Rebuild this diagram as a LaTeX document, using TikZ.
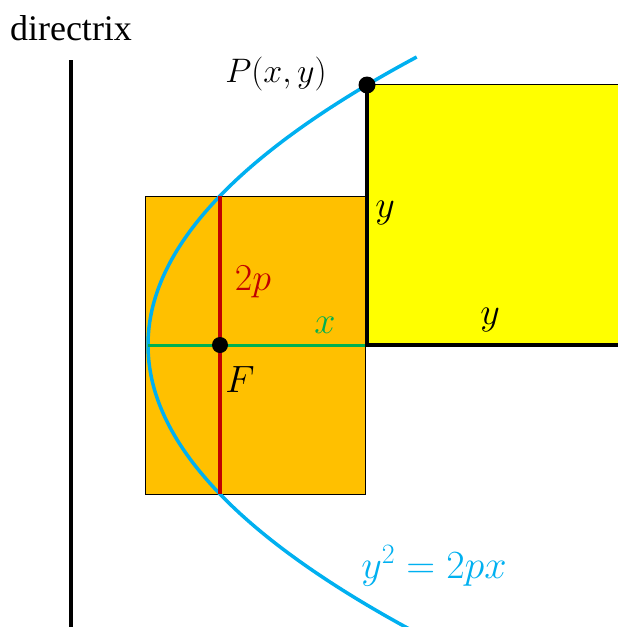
\RequirePackage{fix-cm}
\documentclass[tikz,border=0pt]{standalone}
\usepackage{fontspec}
\setmainfont{Liberation Serif}
\usepackage{tikz}
\usetikzlibrary{positioning}
\definecolor{gold}{HTML}{FFC000}
\definecolor{lemon}{HTML}{FFFF00}
\definecolor{sky}{HTML}{00B0F0}
\definecolor{darkred}{HTML}{C00000}
\definecolor{leaf}{HTML}{00B050}

\begin{document}
\begin{tikzpicture}[x=1pt,y=-1pt,
    dot/.style={circle,fill=black,inner sep=0pt,minimum size=17pt},
    lab/.style={inner sep=0pt,font=\fontsize{38}{42}\selectfont}]
    \useasboundingbox (0,0) rectangle (618,627);
    % points
    \coordinate (d1) at (71,60);
    \coordinate (d2) at (71,627);
    \coordinate (v) at (148,345);
    \coordinate (f) at (220,345);
    \coordinate (l1) at (220,196);
    \coordinate (l2) at (220,494);
    \coordinate (p) at (367,85);
    \coordinate (q) at (367,345);
    \coordinate (e) at (618,345);
    % the two areas
    \draw[fill=gold,line width=1pt] (145,196) rectangle (365,494);
    \draw[fill=lemon,line width=1pt] (367,84) rectangle (622,345);
    \draw[line width=4pt] (d1) -- (d2);
    \draw[sky,line width=3.5pt] plot[domain=-285:288,samples=90,smooth] ({148+(\x/17.57)*(\x/17.57)},{345-\x});
    \draw[darkred,line width=3.5pt] (l1) -- (l2);
    \draw[leaf,line width=3pt] (v) -- (q);
    \draw[line width=4pt] (p) -- (q) -- (e);
    \node[dot] (P) at (p) {};
    \node[dot,minimum size=16pt] (F) at (f) {};
    % labels
    \node[lab,font=\fontsize{36}{40}\selectfont] at (71,28) {directrix};
    \node[lab,font=\fontsize{34}{38}\selectfont] at (276,74) {$P(x,y)$};
    \node[lab] at (385,213) {$y$};
    \node[lab,darkred] at (253,282) {$2p$};
    \node[lab,leaf] at (325,325) {$x$};
    \node[lab] at (490,320) {$y$};
    \node[lab] at (240,380) {$F$};
    \node[lab,sky,font=\fontsize{40}{44}\selectfont] at (434,566) {$y^2=2px$};
\end{tikzpicture}
\end{document}
